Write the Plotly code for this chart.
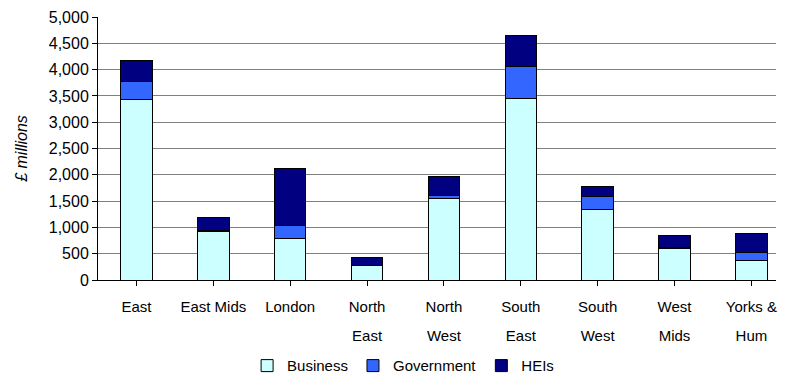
import plotly.graph_objects as go

# Regional R&D expenditure by performing sector (£ millions)
regions = ["East", "East Mids", "London", "North<br>East", "North<br>West",
           "South<br>East", "South<br>West", "West<br>Mids", "Yorks &<br>Hum"]
business = [3430, 930, 780, 270, 1550, 3460, 1340, 600, 370]
government = [340, 10, 265, 5, 65, 590, 240, 15, 150]
heis = [410, 245, 1070, 160, 350, 600, 195, 225, 355]

y_ticks = list(range(0, 5001, 500))

# Wrap each label in a 15px span so the axis font size only sets the line spacing
tick_text = ["<span style='font-size:15px'>" + r.replace("<br>", "</span><br><span style='font-size:15px'>") + "</span>"
             for r in regions]
x_idx = list(range(len(regions)))

series = [
    ("Business", business, "#CCFFFF"),
    ("Government", government, "#3366FF"),
    ("HEIs", heis, "#000080"),
]

fig = go.Figure()
for name, vals, color in series:
    fig.add_trace(go.Bar(
        x=x_idx, y=vals, name=name,
        marker=dict(color=color, line=dict(color="black", width=1)),
    ))

fig.update_layout(
    width=786, height=376,
    margin=dict(l=98, r=10, t=17, b=96),
    barmode="stack",
    bargap=0.59,
    plot_bgcolor="white",
    paper_bgcolor="white",
    font=dict(family="Liberation Sans, Arial, sans-serif", size=15, color="black"),
    showlegend=True,
    legend=dict(
        orientation="h", x=0.45, xanchor="center",
        yref="container", y=0.027, yanchor="middle",
        font=dict(size=15), itemwidth=30, traceorder="normal",
    ),
)

fig.update_xaxes(
    tickmode="array", tickvals=x_idx, ticktext=tick_text,
    range=[-0.5, 8.32],
    tickfont=dict(size=22),
    ticks="outside", tickson="boundaries", ticklen=5, tickcolor="black",
    showline=True, linecolor="black", linewidth=1,
    showgrid=False, zeroline=False, automargin=False,
)

fig.update_yaxes(
    range=[0, 5000], tickvals=y_ticks, tickformat=",",
    tickfont=dict(size=16),
    ticks="outside", ticklen=5, tickcolor="black",
    showline=True, linecolor="black", linewidth=1,
    showgrid=True, gridcolor="#808080", gridwidth=1,
    zeroline=False, automargin=False,
    title=dict(text="£ millions", font=dict(size=16, style="italic"), standoff=17),
)

fig.write_html("out.html")
